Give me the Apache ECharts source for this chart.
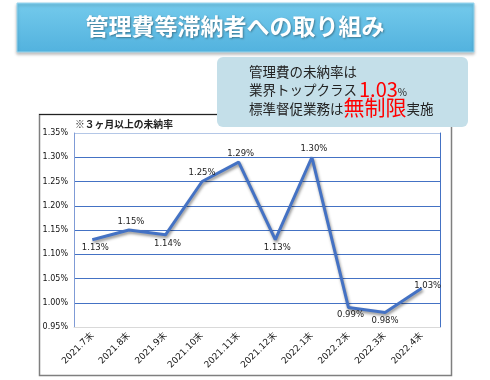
<!DOCTYPE html>
<html><head><meta charset="utf-8">
<script src="https://cdn.jsdelivr.net/npm/echarts@6/dist/echarts.min.js"></script>
<style>html,body{margin:0;padding:0;background:#fff}#c{width:490px;height:380px}</style>
</head><body><div id="c"></div>
<script>
const categories = ['2021.7末','2021.8末','2021.9末','2021.10末','2021.11末','2021.12末','2022.1末','2022.2末','2022.3末','2022.4末'];
const rates = [1.13, 1.15, 1.14, 1.25, 1.29, 1.13, 1.30, 0.99, 0.98, 1.03];
const yTicks = [0.95, 1.00, 1.05, 1.10, 1.15, 1.20, 1.25, 1.30, 1.35];
const labelSide = ['bottom','top','bottom','top','top','bottom','top','bottom','bottom','top'];
const labelShift = [[3,0],[2,0],[2,0],[0,0],[2,0],[2,0],[2,0],[2,-1],[0,0],[6,6]];

const jp = '"Noto Sans CJK JP", sans-serif';
const lat = '"DejaVu Sans", Verdana, sans-serif';

const chart = echarts.init(document.getElementById('c'), null, {renderer:'canvas'});
const option = {
  animation: false,
  backgroundColor: '#ffffff',
  grid: { left: 74, right: 50, top: 133, bottom: 53, containLabel: false },
  xAxis: {
    type: 'category', data: categories, boundaryGap: true,
    axisLine: { show: true, lineStyle: { color: '#d9d9d9', width: 1 } },
    axisTick: { show: false },
    axisLabel: { rotate: 45, fontSize: 9, fontFamily: lat, color: '#111', margin: 7, interval: 0 }
  },
  yAxis: [{
    type: 'value', min: yTicks[0], max: yTicks[yTicks.length-1], interval: 0.05,
    axisLine: { show: true, lineStyle: { color: '#7f9bd6', width: 1 } },
    axisTick: { show: false },
    axisLabel: { fontSize: 8, fontFamily: lat, color: '#111', margin: 6,
      formatter: v => v.toFixed(2) + '%' },
    splitLine: { show: true, lineStyle: { color: ['#d9d9d9','#4472c4','#4472c4','#4472c4','#4472c4','#4472c4','#4472c4','#4472c4','#b4c7e7'], width: 1 } }
  },{
    type: 'value', position: 'right', min: yTicks[0], max: yTicks[yTicks.length-1], interval: 0.05,
    axisLine: { show: true, lineStyle: { color: '#4472c4', width: 1 } },
    axisTick: { show: false }, axisLabel: { show: false }, splitLine: { show: false }
  }],
  series: [{
    type: 'line', data: rates.map((v,i) => ({
      value: v,
      label: { show: true, position: labelSide[i], offset: labelShift[i] }
    })),
    symbol: 'circle', symbolSize: 0, showSymbol: true,
    itemStyle: { color: 'rgba(68,114,196,0)' },
    lineStyle: { color: '#4472c4', width: 3, shadowColor: 'rgba(0,0,0,0.45)', shadowBlur: 3, shadowOffsetX: 1, shadowOffsetY: 2 },
    label: { show: true, fontSize: 8.5, fontFamily: lat, color: '#222', distance: 4,
      formatter: p => p.value.toFixed(2) + '%' },
    emphasis: { disabled: true },
    z: 5
  }],
  graphic: [
    // chart frame
    { type: 'rect', shape: { x: 39.5, y: 114.5, width: 412, height: 261 },
      style: { fill: 'none', stroke: '#7f7f7f', lineWidth: 1.5 }, z: -1 },
    { type: 'line', shape: { x1: 39, y1: 114.5, x2: 451, y2: 114.5 },
      style: { stroke: '#222', lineWidth: 1 }, z: 0 },
    { type: 'text', x: 75, y: 124,
      style: { text: '※３ヶ月以上の未納率', font: 'bold 9.8px ' + jp, fill: '#222', textVerticalAlign: 'middle' }, z: 10 },
    // banner
    { type: 'rect', shape: { x: 17, y: 3, width: 457, height: 49 },
      style: { fill: new echarts.graphic.LinearGradient(0,0,0,1,[{offset:0,color:'#74caec'},{offset:1,color:'#52b2de'}]),
        stroke: '#9ad6ef', lineWidth: 1,
        shadowColor: 'rgba(0,0,0,0.25)', shadowBlur: 3, shadowOffsetY: 2 }, z: 20 },
    { type: 'text', x: 235, y: 26,
      style: { text: '管理費等滞納者への取り組み', font: 'bold 23px ' + jp, fill: '#ffffff',
        textAlign: 'center', textVerticalAlign: 'middle',
        textShadowColor: 'rgba(0,0,0,0.35)', textShadowBlur: 2, textShadowOffsetX: 1, textShadowOffsetY: 1 }, z: 21 },
    // callout
    { type: 'rect', shape: { x: 217, y: 57, width: 251, height: 70, r: 6 },
      style: { fill: '#c4dfe9' }, z: 20 },
    { type: 'text', x: 249, y: 79,
      style: { text: '管理費の未納率は', font: '13.5px ' + jp, fill: '#222', textVerticalAlign: 'bottom' }, z: 21 },
    { type: 'text', x: 249, y: 97,
      style: { text: '{a|業界トップクラス}{r|1.03}{s|%}', textVerticalAlign: 'bottom',
        rich: {
          a: { font: '13.5px ' + jp, fill: '#222', verticalAlign: 'bottom' },
          r: { font: '20px ' + jp, fill: '#ff0000', verticalAlign: 'bottom', padding: [0,0,-2,2] },
          s: { font: '10px ' + jp, fill: '#222', verticalAlign: 'bottom' }
        } }, z: 21 },
    { type: 'text', x: 249, y: 116,
      style: { text: '{a|標準督促業務は}{r|無制限}{a|実施}', textVerticalAlign: 'bottom',
        rich: {
          a: { font: '13.5px ' + jp, fill: '#222', verticalAlign: 'bottom' },
          r: { font: '21px ' + jp, fill: '#ff0000', verticalAlign: 'bottom', padding: [0,0,-2,0] }
        } }, z: 21 }
  ]
};
chart.setOption(option);
</script></body></html>
